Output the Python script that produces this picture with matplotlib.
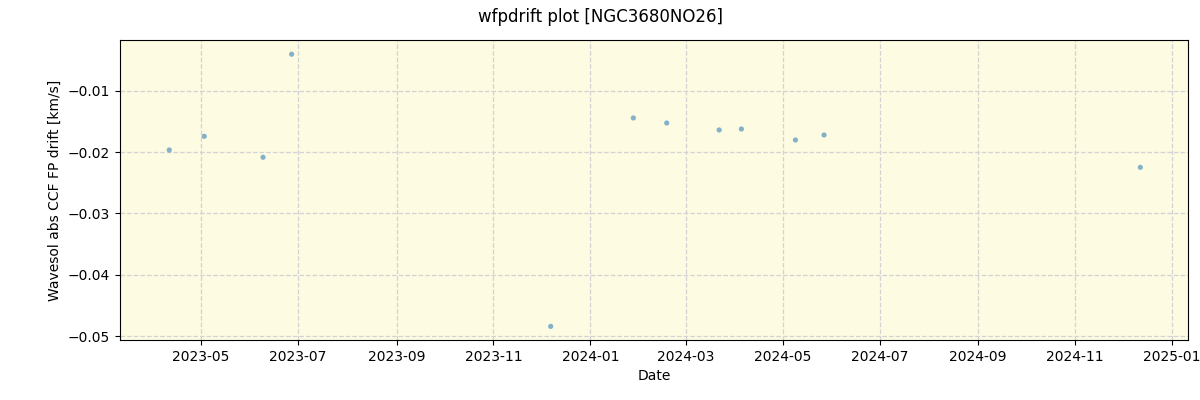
import matplotlib
matplotlib.use("Agg")
import matplotlib.pyplot as plt
import matplotlib.dates as mdates
import numpy as np
import pandas as pd

dates = pd.to_datetime([
    "2023-04-11", "2023-05-03", "2023-06-09", "2023-06-27",
    "2023-12-07", "2024-01-28", "2024-02-18", "2024-03-22",
    "2024-04-05", "2024-05-09", "2024-05-27", "2024-12-12",
])
drift = np.array([
    -0.01967, -0.01744, -0.02086, -0.00406,
    -0.04843, -0.01445, -0.01527, -0.01641,
    -0.01625, -0.01804, -0.01723, -0.02250,
])

fig, ax = plt.subplots(figsize=(12, 4), dpi=100)
fig.subplots_adjust(left=0.1, right=0.99, top=0.9, bottom=0.15)
ax.set_facecolor("#fdfbe2")
ax.scatter(dates, drift, s=14, color="tab:blue", alpha=0.55, edgecolors="none", zorder=3)
ax.grid(True, linestyle="--", color="lightgray", linewidth=0.9)
ax.xaxis.set_major_locator(mdates.MonthLocator(bymonth=[1, 3, 5, 7, 9, 11]))
ax.xaxis.set_major_formatter(mdates.DateFormatter("%Y-%m"))
ax.set_xlim(pd.Timestamp("2023-03-11"), pd.Timestamp("2025-01-11"))
ax.set_ylim(-0.05065, -0.00174)
ax.set_xlabel("Date")
ax.set_ylabel("Wavesol abs CCF FP drift [km/s]")
fig.suptitle("wfpdrift plot [NGC3680NO26]")
fig.savefig("out.png")
